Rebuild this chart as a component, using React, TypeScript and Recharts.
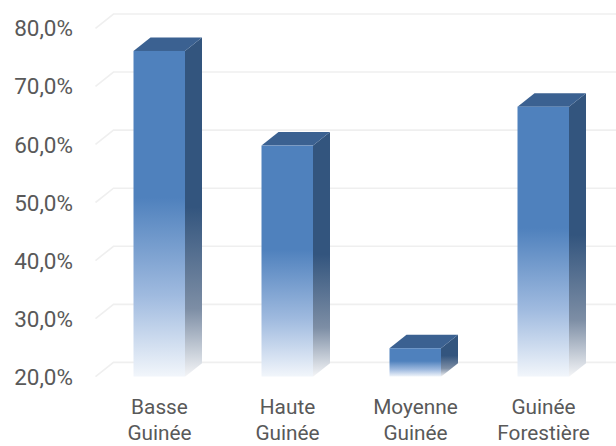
import React from "react";
import { BarChart, Bar, XAxis, YAxis, CartesianGrid } from "recharts";

const categories = ["Basse Guinée", "Haute Guinée", "Moyenne Guinée", "Guinée Forestière"];
const values = [76.1, 59.8, 24.9, 66.5];
const yTicks = [20, 30, 40, 50, 60, 70, 80];

const data = categories.map((c, i) => ({ name: c, value: values[i] }));

const DX = 17;
const DY = 13.5;
const TEXT = "#595959";
const FONT = "Roboto, 'Liberation Sans', Arial, sans-serif";

const fmt = (v: number) => v.toFixed(1).replace(".", ",") + "%";

const Box3D = (props: any) => {
  const { x, y, width: w, height: h } = props;
  if (h == null || w == null) return null;
  const side = `M${x + w},${y} L${x + w + DX},${y - DY} L${x + w + DX},${y + h - DY} L${x + w},${y + h} Z`;
  const top = `M${x},${y} L${x + w},${y} L${x + w + DX},${y - DY} L${x + DX},${y - DY} Z`;
  return (
    <g>
      <path d={side} fill="url(#sideGrad)" />
      <path d={top} fill="#3b6191" />
      <rect x={x} y={y} width={w} height={h} fill="url(#frontGrad)" />
    </g>
  );
};

const YTick = (props: any) => {
  const { y, payload } = props;
  return (
    <text x={73} y={y} dy="0.36em" textAnchor="end" fill={TEXT} fontSize={22.5} fontFamily={FONT}>
      {fmt(payload.value)}
    </text>
  );
};

const XTick = (props: any) => {
  const { x, y, payload } = props;
  const parts = String(payload.value).split(" ");
  return (
    <g>
      <text x={x} y={y + 37} textAnchor="middle" fill={TEXT} fontSize={20.8} fontFamily={FONT}>
        {parts[0]}
      </text>
      <text x={x} y={y + 63.3} textAnchor="middle" fill={TEXT} fontSize={20.8} fontFamily={FONT}>
        {parts.slice(1).join(" ")}
      </text>
    </g>
  );
};

const GridLine = (props: any) => {
  const { x1, y1, x2 } = props;
  return (
    <path
      key={props.key}
      d={`M${x1},${y1} L${x1 + 18},${y1 - 14.3} L${x2 + 8.5},${y1 - 14.3}`}
      stroke="#efefef"
      strokeWidth={1.6}
      fill="none"
    />
  );
};

export default function App() {
  return (
    <div style={{ position: "absolute", left: 0, top: 0, width: 616, height: 446, background: "#fff" }}>
      <BarChart
        width={616}
        height={446}
        data={data}
        margin={{ top: 28.3, right: 8.5, left: 0, bottom: 9.3 }}
      >
        <defs>
          <linearGradient id="frontGrad" x1="0" y1="0" x2="0" y2="1">
            <stop offset="0" stopColor="#4f81bd" />
            <stop offset="0.45" stopColor="#4f81bd" />
            <stop offset="0.75" stopColor="#9fbadf" />
            <stop offset="1" stopColor="#f2f6fb" />
          </linearGradient>
          <linearGradient id="sideGrad" x1="0" y1="0" x2="0" y2="1">
            <stop offset="0" stopColor="#33557e" />
            <stop offset="0.5" stopColor="#33557e" />
            <stop offset="0.8" stopColor="#7d8ea5" />
            <stop offset="1" stopColor="#f4f5f7" />
          </linearGradient>
        </defs>
        <CartesianGrid vertical={false} horizontal={GridLine as any} />
        <XAxis
          dataKey="name"
          height={60}
          axisLine={false}
          tickLine={false}
          tickSize={0}
          tickMargin={0}
          interval={0}
          tick={XTick}
        />
        <YAxis
          width={95.5}
          domain={[20, 80]}
          ticks={yTicks}
          axisLine={false}
          tickLine={false}
          allowDataOverflow
          tick={YTick}
        />
        <Bar dataKey="value" barSize={51.5} shape={Box3D} isAnimationActive={false} />
      </BarChart>
    </div>
  );
}
